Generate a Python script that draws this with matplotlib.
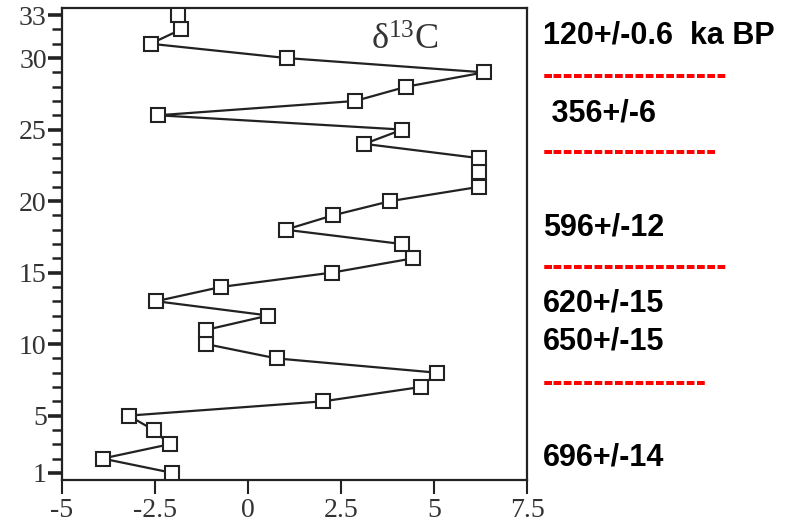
import numpy as np
import matplotlib.pyplot as plt

# sample number (depth) and d13C values
depth = list(range(1, 34))
d13c = [-2.04, -3.91, -2.11, -2.54, -3.21, 2.02, 4.64, 5.09, 0.77, -1.12,
        -1.12, 0.55, -2.47, -0.72, 2.26, 4.44, 4.13, 1.01, 2.28, 3.83,
        6.22, 6.22, 6.22, 3.13, 4.15, -2.42, 2.88, 4.26, 6.35, 1.04,
        -2.62, -1.80, -1.87]

y_major = [1, 5, 10, 15, 20, 25, 30, 33]
x_ticks = [-5, -2.5, 0, 2.5, 5, 7.5]
x_labels = ['-5', '-2.5', '0', '2.5', '5', '7.5']

# ages on the right, top to bottom
ages = ['120+/-0.6  ka BP', ' 356+/-6', '596+/-12', '620+/-15', '650+/-15', '696+/-14']
age_y = [35, 113, 227, 304, 342, 458]          # pixel rows
dash_n = [18, 17, 18, 16]
dash_y = [76, 152, 267, 383]

plt.rcParams['mathtext.fontset'] = 'custom'
plt.rcParams['mathtext.rm'] = 'Liberation Serif'
plt.rcParams['mathtext.it'] = 'Liberation Serif'

W, H = 801, 524
fig = plt.figure(figsize=(W / 100, H / 100), dpi=100)
ax = fig.add_axes([62 / W, 1 - 480 / H, 465 / W, 472 / H])

ink = '#222222'
ax.plot(d13c, depth, color=ink, lw=1.6, marker='s', ms=9.5,
        mfc='white', mec=ink, mew=1.5, zorder=3)

ax.set_xlim(-5, 7.5)
ax.set_ylim(0.5, 33.5)
ax.set_xticks(x_ticks)
ax.set_xticklabels(x_labels)
ax.set_yticks(y_major)
ax.set_yticks(depth, minor=True)

for s in ax.spines.values():
    s.set_linewidth(1.6)
    s.set_color(ink)

ax.tick_params(axis='x', direction='out', length=10, width=1.5, color=ink,
               pad=3, labelcolor='#333333')
ax.tick_params(axis='y', which='major', direction='out', length=10, width=2.6,
               color=ink, pad=1, labelcolor='#333333')
ax.tick_params(axis='y', which='minor', direction='out', length=7, width=1.8,
               color=ink)
for lab in ax.get_xticklabels() + ax.get_yticklabels():
    lab.set_fontfamily('Liberation Serif')
    lab.set_fontsize(20)

ax.text(0.738, 0.932, r'$\mathrm{\delta^{13}C}$', transform=ax.transAxes,
        ha='center', va='center', fontsize=26, color='#333333')

for txt, yp in zip(ages, age_y):
    fig.text(543 / W, 1 - yp / H, txt, ha='left', va='center',
             fontfamily='Liberation Sans', fontweight='bold', fontsize=22,
             color='black')

for n, yp in zip(dash_n, dash_y):
    fig.text(543 / W, 1 - yp / H, '-' * n, ha='left', va='center',
             fontfamily='Liberation Sans', fontweight='bold', fontsize=22,
             color='red')

fig.savefig('out.png', dpi=100)
